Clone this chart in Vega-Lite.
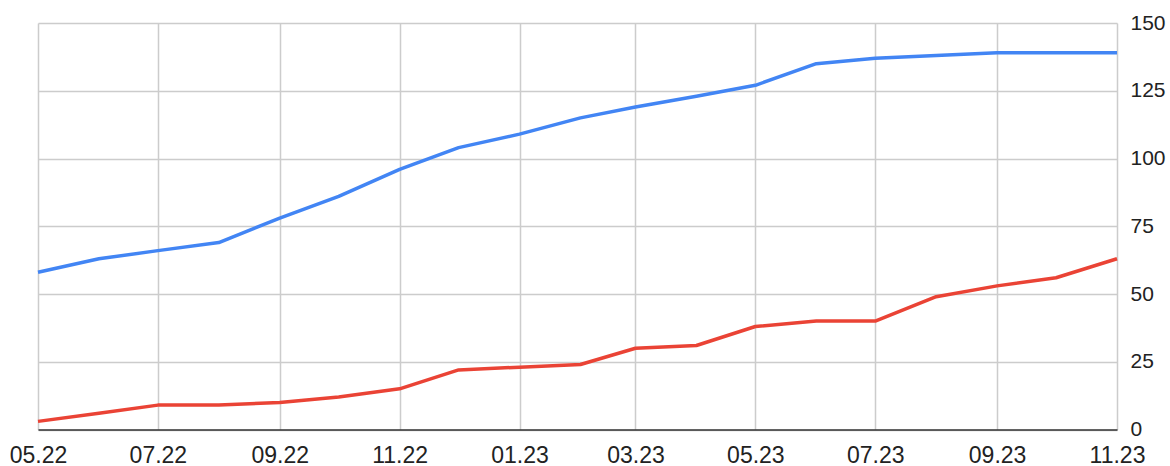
{
  "$schema": "https://vega.github.io/schema/vega-lite/v6.json",
  "width": 1079,
  "height": 406.5,
  "autosize": "none",
  "padding": {"left": 38, "top": 23, "right": 53, "bottom": 36.5},
  "background": "white",
  "config": {
    "view": {"stroke": null},
    "font": "Liberation Sans"
  },
  "data": {
    "values": [
      {"date": "2022-05-01", "series": "A", "value": 58},
      {"date": "2022-06-01", "series": "A", "value": 63},
      {"date": "2022-07-01", "series": "A", "value": 66},
      {"date": "2022-08-01", "series": "A", "value": 69},
      {"date": "2022-09-01", "series": "A", "value": 78},
      {"date": "2022-10-01", "series": "A", "value": 86},
      {"date": "2022-11-01", "series": "A", "value": 96},
      {"date": "2022-12-01", "series": "A", "value": 104},
      {"date": "2023-01-01", "series": "A", "value": 109},
      {"date": "2023-02-01", "series": "A", "value": 115},
      {"date": "2023-03-01", "series": "A", "value": 119},
      {"date": "2023-04-01", "series": "A", "value": 123},
      {"date": "2023-05-01", "series": "A", "value": 127},
      {"date": "2023-06-01", "series": "A", "value": 135},
      {"date": "2023-07-01", "series": "A", "value": 137},
      {"date": "2023-08-01", "series": "A", "value": 138},
      {"date": "2023-09-01", "series": "A", "value": 139},
      {"date": "2023-10-01", "series": "A", "value": 139},
      {"date": "2023-11-01", "series": "A", "value": 139},
      {"date": "2022-05-01", "series": "B", "value": 3},
      {"date": "2022-06-01", "series": "B", "value": 6},
      {"date": "2022-07-01", "series": "B", "value": 9},
      {"date": "2022-08-01", "series": "B", "value": 9},
      {"date": "2022-09-01", "series": "B", "value": 10},
      {"date": "2022-10-01", "series": "B", "value": 12},
      {"date": "2022-11-01", "series": "B", "value": 15},
      {"date": "2022-12-01", "series": "B", "value": 22},
      {"date": "2023-01-01", "series": "B", "value": 23},
      {"date": "2023-02-01", "series": "B", "value": 24},
      {"date": "2023-03-01", "series": "B", "value": 30},
      {"date": "2023-04-01", "series": "B", "value": 31},
      {"date": "2023-05-01", "series": "B", "value": 38},
      {"date": "2023-06-01", "series": "B", "value": 40},
      {"date": "2023-07-01", "series": "B", "value": 40},
      {"date": "2023-08-01", "series": "B", "value": 49},
      {"date": "2023-09-01", "series": "B", "value": 53},
      {"date": "2023-10-01", "series": "B", "value": 56},
      {"date": "2023-11-01", "series": "B", "value": 63}
    ]
  },
  "mark": {"type": "line", "strokeWidth": 3.5, "strokeJoin": "round", "strokeCap": "butt"},
  "encoding": {
    "x": {
      "field": "date",
      "type": "temporal",
      "scale": {
        "type": "utc",
        "domain": [
          {"year": 2022, "month": 5, "date": 1, "utc": true},
          {"year": 2023, "month": 11, "date": 1, "utc": true}
        ],
        "nice": false
      },
      "axis": {
        "title": null,
        "format": "%m.%y",
        "values": [
          {"year": 2022, "month": 5, "date": 1, "utc": true},
          {"year": 2022, "month": 7, "date": 1, "utc": true},
          {"year": 2022, "month": 9, "date": 1, "utc": true},
          {"year": 2022, "month": 11, "date": 1, "utc": true},
          {"year": 2023, "month": 1, "date": 1, "utc": true},
          {"year": 2023, "month": 3, "date": 1, "utc": true},
          {"year": 2023, "month": 5, "date": 1, "utc": true},
          {"year": 2023, "month": 7, "date": 1, "utc": true},
          {"year": 2023, "month": 9, "date": 1, "utc": true},
          {"year": 2023, "month": 11, "date": 1, "utc": true}
        ],
        "ticks": false,
        "labelPadding": 15,
        "labelFontSize": 23,
        "labelColor": "#222222",
        "labelFont": "Liberation Sans",
        "labelOverlap": false,
        "labelFlush": false,
        "grid": true,
        "gridColor": "#cccccc",
        "gridWidth": 1.5,
        "domain": true,
        "domainColor": "#333333",
        "domainWidth": 1.5
      }
    },
    "y": {
      "field": "value",
      "type": "quantitative",
      "scale": {"domain": [0, 150], "nice": false, "zero": true},
      "axis": {
        "title": null,
        "orient": "right",
        "values": [0, 25, 50, 75, 100, 125, 150],
        "ticks": false,
        "domain": false,
        "labelPadding": 13,
        "labelFontSize": 21,
        "labelColor": "#222222",
        "labelFont": "Liberation Sans",
        "labelAlign": "left",
        "labelBaseline": "middle",
        "labelFlush": false,
        "labelOverlap": false,
        "grid": true,
        "gridColor": "#cccccc",
        "gridWidth": 1.5
      }
    },
    "color": {
      "field": "series",
      "type": "nominal",
      "scale": {"domain": ["A", "B"], "range": ["#4285F4", "#EA4335"]},
      "legend": null
    }
  }
}
